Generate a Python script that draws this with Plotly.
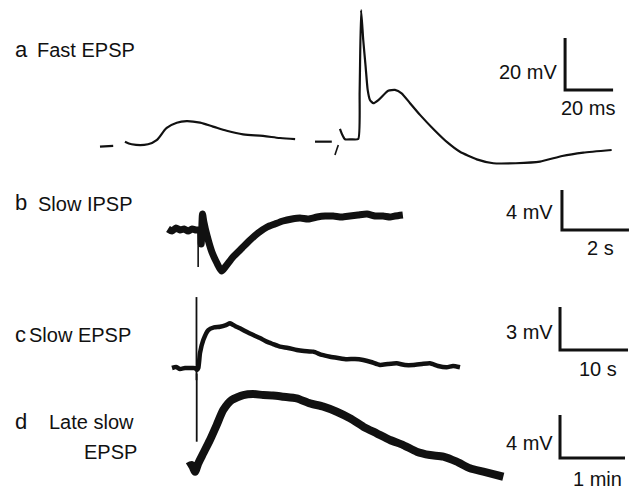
import plotly.graph_objects as go

W, H = 629, 486

# ---------------- data ----------------
# a) Fast EPSP -- sweep 1 (subthreshold), time in ms, membrane potential in mV (relative)
a1_pre_t = [0.0, 5.5]
a1_pre_v = [-1.0, -0.7]
a1_t = [10.4, 13.2, 20.0, 23.6, 27.8, 32.0, 36.1, 41.7, 47.1, 52.8, 59.6, 67.9, 75.0, 81.3]
a1_v = [0.9, -0.1, -0.1, 1.5, 6.2, 8.2, 8.8, 8.2, 6.7, 5.1, 3.7, 3.1, 2.3, 1.9]
# a) sweep 2 (suprathreshold, action potential)
a2_pre_t = [0.0, 7.0]
a2_pre_v = [0.9, 0.9]
a2_art_t = [8.3, 9.7]
a2_art_v = [-4.2, -0.4]
a2_t = [10.4, 11.25, 12.5, 15.0, 18.0, 18.6, 19.2, 20.1, 21.1, 21.95, 22.9, 24.3, 26.4,
        30.5, 33.3, 36.1, 39.6, 43.75, 49.7, 55.3, 60.4, 67.4, 74.3, 83.6, 93.75,
        103.0, 111.8, 123.6]
a2_v = [5.8, 3.8, 1.8, 1.8, 1.9, 20.0, 51.5, 40.0, 29.7, 20.8, 16.9, 15.7, 16.9,
        20.5, 20.8, 19.5, 15.7, 11.2, 5.4, 0.5, -3.0, -5.9, -7.4, -7.4, -6.8,
        -4.6, -3.3, -2.3]

# b) Slow IPSP, time in s, mV
b_t = [0.0, 0.12, 0.24, 0.36, 0.48, 0.60, 0.72, 0.84, 0.96, 0.99, 1.03, 1.07, 1.16,
       1.31, 1.46, 1.60, 1.73, 1.94, 2.21, 2.45, 2.69, 2.96, 3.19, 3.43, 3.70, 3.94,
       4.18, 4.45, 4.69, 4.93, 5.19, 5.43, 5.67, 5.94, 6.18, 6.42, 6.63, 6.78, 7.01]
b_v = [0.1, -0.1, 0.2, 0.0, 0.1, -0.1, 0.1, 0.0, 0.0, -1.4, 1.6, 0.8, -0.5,
       -2.2, -3.3, -4.1, -3.6, -2.7, -1.8, -1.0, -0.3, 0.3, 0.6, 0.9, 1.1, 1.2,
       1.1, 1.3, 1.4, 1.4, 1.3, 1.4, 1.5, 1.6, 1.4, 1.4, 1.3, 1.4, 1.5]
b_art_t = [0.9, 0.9]
b_art_v = [0.0, -3.7]

# c) Slow EPSP, time in s, mV
c_t = [0.0, 0.59, 1.18, 1.91, 2.65, 3.38, 3.68, 3.87, 4.12, 4.60, 5.34, 6.18, 7.06,
       7.94, 8.53, 9.26, 10.0, 11.03, 11.96, 12.94, 13.93, 14.85, 15.88, 17.06,
       18.34, 19.41, 20.78, 22.06, 23.24, 24.41, 25.69, 26.91, 28.13, 29.26, 30.59,
       31.76, 33.04, 34.26, 35.49, 36.76, 37.94, 39.12, 40.40, 41.32, 42.35]
c_v = [0.0, 0.07, -0.07, 0.0, 0.0, 0.0, -0.14, 0.0, 1.05, 1.95, 2.65, 2.83, 2.88,
       3.0, 3.12, 2.93, 2.77, 2.51, 2.30, 2.09, 1.84, 1.67, 1.49, 1.40,
       1.26, 1.19, 1.14, 0.91, 0.79, 0.70, 0.61, 0.63, 0.56, 0.42, 0.21,
       0.28, 0.33, 0.21, 0.21, 0.28, 0.33, 0.14, 0.05, 0.14, 0.05]
c_art_t = [3.6, 3.6]
c_art_v = [4.95, -0.85]

# d) Late slow EPSP, time in min, mV
d_t = [0.0, 0.057, 0.108, 0.158, 0.235, 0.338, 0.441, 0.543, 0.672, 0.851, 1.0, 1.158,
       1.308, 1.466, 1.672, 1.877, 2.082, 2.288, 2.492, 2.697, 2.903, 3.108, 3.312,
       3.518, 3.723, 3.928, 4.134, 4.338, 4.543, 4.851]
d_v = [-0.07, 0.09, -0.53, 0.25, 1.18, 2.42, 3.81, 5.21, 6.14, 6.60, 6.70, 6.60,
       6.56, 6.45, 6.30, 5.83, 5.52, 5.05, 4.44, 3.66, 3.04, 2.42, 1.95,
       1.33, 1.02, 0.87, 0.40, -0.21, -0.53, -1.0]
d_art_t = [0.134, 0.134]
d_art_v = [8.6, 2.26]

# scale bars: (vertical size, vertical unit, horizontal size, horizontal unit)
scale_a = (20, "mV", 20, "ms")
scale_b = (4, "mV", 2, "s")
scale_c = (3, "mV", 10, "s")
scale_d = (4, "mV", 1, "min")

panel_labels = [("a", "Fast EPSP"), ("b", "Slow IPSP"), ("c", "Slow EPSP"), ("d", "Late slow<br>EPSP")]

# ---------------- layout / geometry (pixels) ----------------
# each sweep gets its own pair of hidden axes spanning the whole canvas:
# (x pixel of t=0, pixels per time unit, y pixel of v=0, pixels per mV)
geom = {
    1: (100, 2.4, 144, 2.6),     # a sweep 1
    2: (315, 2.4, 144, 2.6),     # a sweep 2
    3: (168, 33.5, 230, 10.0),   # b
    4: (172, 6.8, 368, 14.33),   # c
    5: (188, 65.0, 466, 10.75),  # d
}

fig = go.Figure()
INK = "#111111"

def add_line(t, v, ax, width, shape="linear", smoothing=1.0):
    suffix = "" if ax == 1 else str(ax)
    fig.add_trace(go.Scatter(
        x=t, y=v, mode="lines", xaxis="x" + suffix, yaxis="y" + suffix,
        line=dict(color=INK, width=width, shape=shape, smoothing=smoothing),
        hoverinfo="skip", showlegend=False))

# panel a
add_line(a1_pre_t, a1_pre_v, 1, 2.2)
add_line(a1_t, a1_v, 1, 2.2, "spline", 0.9)
add_line(a2_pre_t, a2_pre_v, 2, 2.2)
add_line(a2_art_t, a2_art_v, 2, 1.6)
add_line(a2_t, a2_v, 2, 2.2, "spline", 0.5)
# panel b
add_line(b_art_t, b_art_v, 3, 1.6)
add_line(b_t, b_v, 3, 7, "spline", 0.6)
# panel c
add_line(c_art_t, c_art_v, 4, 1.8)
add_line(c_t, c_v, 4, 4.5, "spline", 0.5)
# panel d
add_line(d_art_t, d_art_v, 5, 1.8)
add_line(d_t, d_v, 5, 8, "spline", 0.6)

# scale bar corners in each panel's data units
bar_corner = {2: (104.2, 20.8), 3: (11.76, 0.0), 4: (57.06, 1.256), 5: (5.723, 0.744)}
bars = {2: scale_a, 3: scale_b, 4: scale_c, 5: scale_d}
for ax, (vs, vu, hs, hu) in bars.items():
    t0, v0 = bar_corner[ax]
    add_line([t0, t0, t0 + hs], [v0 + vs, v0, v0], ax, 3)

layout = dict(width=W, height=H, margin=dict(l=0, r=0, t=0, b=0),
              paper_bgcolor="white", plot_bgcolor="white")
for ax, (px0, ppx, py0, ppy) in geom.items():
    suffix = "" if ax == 1 else str(ax)
    xa = dict(domain=[0, 1], range=[(0 - px0) / ppx, (W - px0) / ppx], visible=False,
              fixedrange=True, showgrid=False, zeroline=False)
    ya = dict(domain=[0, 1], range=[(py0 - H) / ppy, py0 / ppy], visible=False,
              fixedrange=True, showgrid=False, zeroline=False)
    if ax != 1:
        xa.update(overlaying="x", anchor="y" + suffix)
        ya.update(overlaying="y", anchor="x" + suffix)
    layout["xaxis" + suffix] = xa
    layout["yaxis" + suffix] = ya
fig.update_layout(**layout)

FONT = "Liberation Sans, Arial, Helvetica, sans-serif"

def ann(text, px, py, size, xanchor="left", yanchor="middle"):
    fig.add_annotation(text=text, xref="paper", yref="paper", x=px / W, y=1 - py / H,
                       xanchor=xanchor, yanchor=yanchor, showarrow=False,
                       font=dict(family=FONT, size=size, color=INK))

# panel labels
letter_pos = [(13, 49), (13, 203), (13, 334), (13, 421)]
label_pos = [(35, 50), (36, 204), (27, 335), (47, 422)]
for (letter, name), (lx, ly), (nx, ny) in zip(panel_labels, letter_pos, label_pos):
    ann(letter, lx, ly, 22)
    if "<br>" in name:
        first, second = name.split("<br>")
        ann(first, nx, ny, 20)
        ann(second, 139, ny + 30, 20, xanchor="right")
    else:
        ann(name, nx, ny, 20)

# scale bar labels
vlab = [(559, 72), (555, 212), (555, 332), (555, 443)]
hlab = [(588, 108), (600, 248), (598, 369), (597, 479)]
for (vs, vu, hs, hu), (vx, vy), (hx, hy) in zip([scale_a, scale_b, scale_c, scale_d], vlab, hlab):
    ann(f"{vs} {vu}", vx, vy, 20, xanchor="right")
    ann(f"{hs} {hu}", hx, hy, 20, xanchor="center")

fig.write_html("out.html",
               config={"displayModeBar": False, "staticPlot": True},
               post_script="document.body.style.margin='0';document.body.style.padding='0';"
                           "document.documentElement.style.overflow='hidden';")
